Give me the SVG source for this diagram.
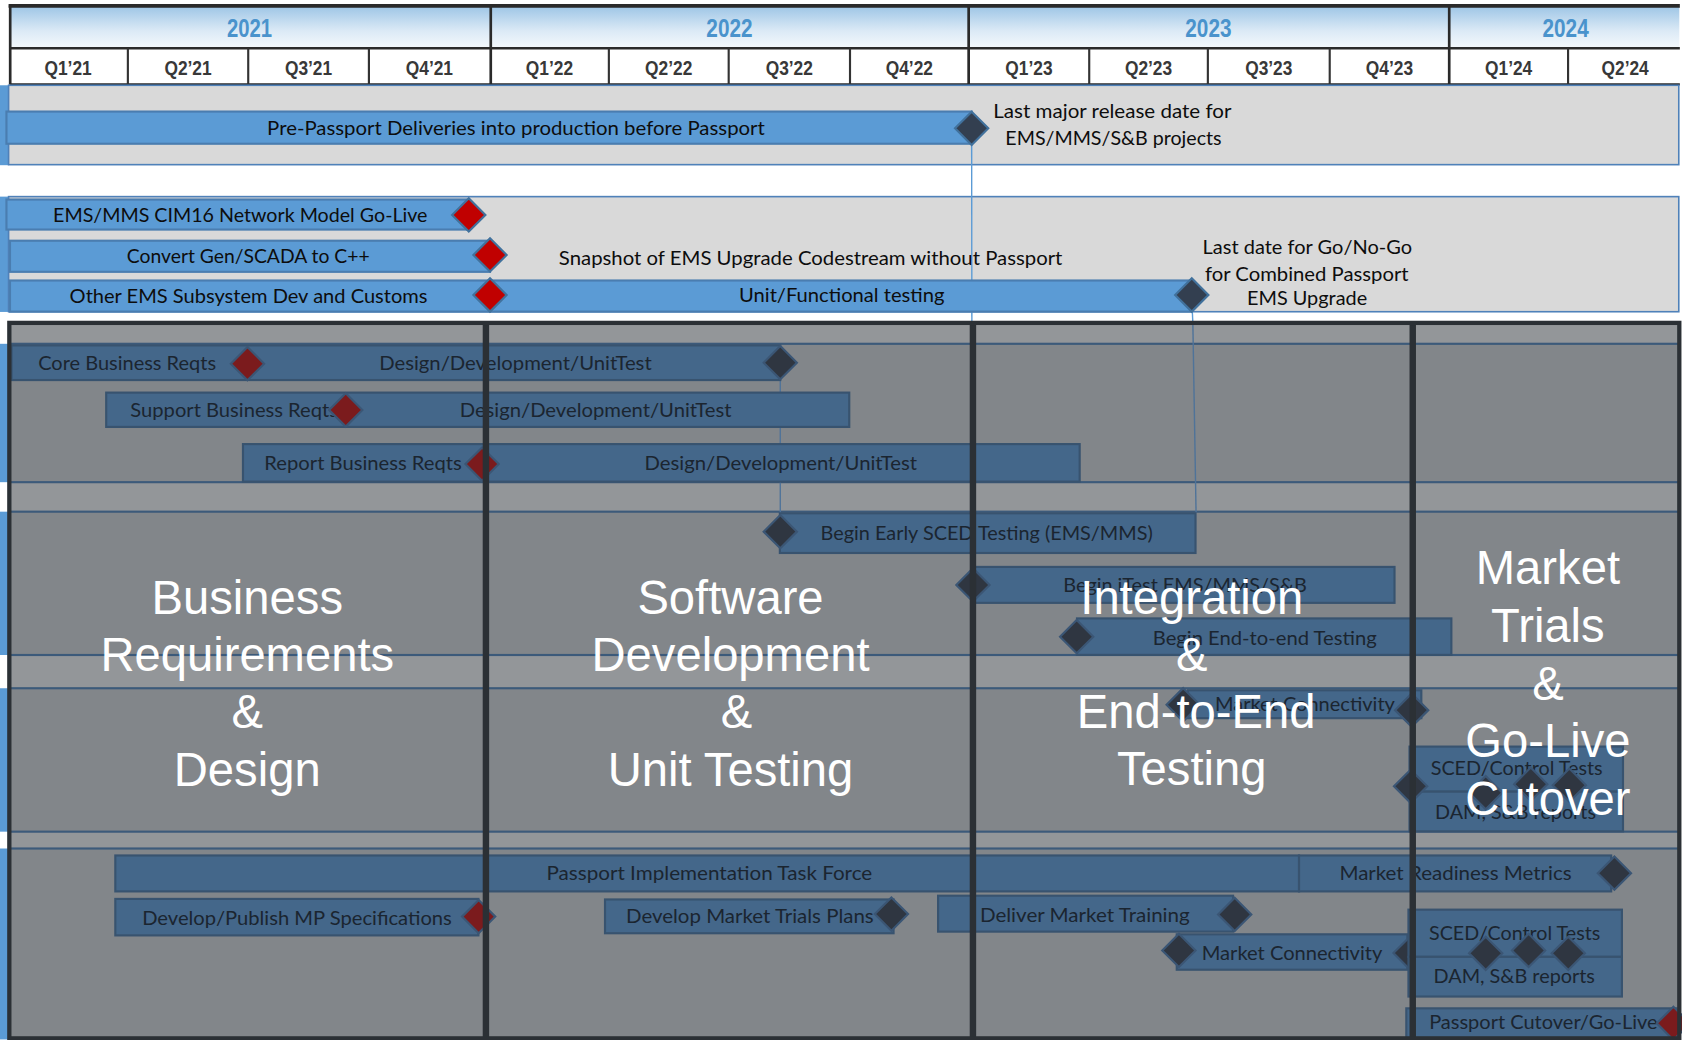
<svg xmlns="http://www.w3.org/2000/svg" width="1682" height="1040" viewBox="0 0 1682 1040">
<defs>
<linearGradient id="yearGrad" x1="0" y1="0" x2="0" y2="1">
<stop offset="0" stop-color="#9ec6e6"/>
<stop offset="0.6" stop-color="#dceaf6"/>
<stop offset="1" stop-color="#f3f8fc"/>
</linearGradient>
<path id="dm" d="M0,-15.5 L15.5,0 L0,15.5 L-15.5,0 Z"/>
<style>
.lbl{font-family:Lato,"Open Sans","Liberation Sans",sans-serif;font-size:18.5px;fill:#0d0d0d;text-anchor:middle}
.lbl2{font-family:Lato,"Open Sans","Liberation Sans",sans-serif;font-size:18px;fill:#1b2530;text-anchor:middle}
.year{font-family:"Liberation Sans",Arial,sans-serif;font-weight:bold;font-size:24px;fill:#4a93cc;text-anchor:middle}
.qtr{font-family:"Liberation Sans",Arial,sans-serif;font-weight:bold;font-size:19px;fill:#383838;text-anchor:middle}
.phase{font-family:"Liberation Sans",Arial,sans-serif;font-size:44px;fill:#ffffff;text-anchor:middle}
.sec{fill:#d9d9d9;stroke:#4f81b9;stroke-width:1.5}
.strip{fill:#5b9bd5}
.lane{fill:#82868a;stroke:#3c5a7a;stroke-width:2}
.bar{fill:#5b9bd5;stroke:#4a7db0;stroke-width:2}
.dbar{fill:#44678a;stroke:#38536f;stroke-width:2}
.rd{fill:#c00000;stroke:#41719c;stroke-width:2}
.dd{fill:#333f50;stroke:#41719c;stroke-width:2}
.rdl{fill:#7b1b1d;stroke:#3b5675;stroke-width:2}
.ddl{fill:#2f3641;stroke:#3b5675;stroke-width:2}
.hl{stroke:#2a2a2a;fill:none}
.div{stroke:#2b3035;stroke-width:6;fill:none}
</style>
</defs>
<rect width="1682" height="1040" fill="#ffffff"/>
<g transform="scale(1.0727)">
<!-- header -->
<g id="header">
<rect x="9.5" y="6" width="1556" height="38.5" fill="url(#yearGrad)"/>
<rect x="9.5" y="46" width="1556" height="32" fill="#ffffff"/>
<line class="hl" x1="8" y1="5.5" x2="1566" y2="5.5" stroke-width="3.5"/>
<line class="hl" x1="9.5" y1="45" x2="1566" y2="45" stroke-width="2.5"/>
<line class="hl" x1="9.5" y1="78.6" x2="1566" y2="78.6" stroke-width="2"/>
<line class="hl" x1="9.5" y1="5" x2="9.5" y2="79" stroke-width="2.5"/>
<line class="hl" x1="457.5" y1="5" x2="457.5" y2="79" stroke-width="2.5"/>
<line class="hl" x1="903" y1="5" x2="903" y2="79" stroke-width="2.5"/>
<line class="hl" x1="1351" y1="5" x2="1351" y2="79" stroke-width="2.5"/>
<g stroke="#333" stroke-width="2">
<line x1="119.2" y1="45" x2="119.2" y2="79"/>
<line x1="231.4" y1="45" x2="231.4" y2="79"/>
<line x1="343.9" y1="45" x2="343.9" y2="79"/>
<line x1="567.6" y1="45" x2="567.6" y2="79"/>
<line x1="679.3" y1="45" x2="679.3" y2="79"/>
<line x1="792.4" y1="45" x2="792.4" y2="79"/>
<line x1="1015.4" y1="45" x2="1015.4" y2="79"/>
<line x1="1126" y1="45" x2="1126" y2="79"/>
<line x1="1239.6" y1="45" x2="1239.6" y2="79"/>
<line x1="1461.8" y1="45" x2="1461.8" y2="79"/>
</g>
<text class="year" x="232.5" y="34.8" textLength="42" lengthAdjust="spacingAndGlyphs">2021</text>
<text class="year" x="680" y="34.8" textLength="43" lengthAdjust="spacingAndGlyphs">2022</text>
<text class="year" x="1126.5" y="34.8" textLength="43" lengthAdjust="spacingAndGlyphs">2023</text>
<text class="year" x="1459.5" y="34.8" textLength="43" lengthAdjust="spacingAndGlyphs">2024</text>
<text class="qtr" x="63.5" y="70" textLength="44" lengthAdjust="spacingAndGlyphs">Q1’21</text>
<text class="qtr" x="175.3" y="70" textLength="44" lengthAdjust="spacingAndGlyphs">Q2’21</text>
<text class="qtr" x="287.6" y="70" textLength="44" lengthAdjust="spacingAndGlyphs">Q3’21</text>
<text class="qtr" x="400.3" y="70" textLength="44" lengthAdjust="spacingAndGlyphs">Q4’21</text>
<text class="qtr" x="512.2" y="70" textLength="44" lengthAdjust="spacingAndGlyphs">Q1’22</text>
<text class="qtr" x="623.4" y="70" textLength="44" lengthAdjust="spacingAndGlyphs">Q2’22</text>
<text class="qtr" x="735.8" y="70" textLength="44" lengthAdjust="spacingAndGlyphs">Q3’22</text>
<text class="qtr" x="847.7" y="70" textLength="44" lengthAdjust="spacingAndGlyphs">Q4’22</text>
<text class="qtr" x="959.2" y="70" textLength="44" lengthAdjust="spacingAndGlyphs">Q1’23</text>
<text class="qtr" x="1070.7" y="70" textLength="44" lengthAdjust="spacingAndGlyphs">Q2’23</text>
<text class="qtr" x="1182.8" y="70" textLength="44" lengthAdjust="spacingAndGlyphs">Q3’23</text>
<text class="qtr" x="1295.3" y="70" textLength="44" lengthAdjust="spacingAndGlyphs">Q4’23</text>
<text class="qtr" x="1406.4" y="70" textLength="44" lengthAdjust="spacingAndGlyphs">Q1’24</text>
<text class="qtr" x="1515" y="70" textLength="44" lengthAdjust="spacingAndGlyphs">Q2’24</text>
</g>
<!-- upper sections -->
<g id="sections-upper">
<rect class="strip" x="0" y="79.5" width="8.5" height="74.5"/>
<rect class="strip" x="0" y="183.3" width="8.5" height="107.5"/>
<rect class="sec" x="8" y="79.5" width="1557" height="74"/>
<rect class="sec" x="8" y="183.3" width="1557" height="107.3"/>
</g>
<!-- lower lanes -->
<g id="lanes-lower">
<rect class="strip" x="0" y="320.5" width="8.7" height="129"/>
<rect class="strip" x="0" y="477" width="8.7" height="133.6"/>
<rect class="strip" x="0" y="641.6" width="8.7" height="133.7"/>
<rect class="strip" x="0" y="791" width="8.7" height="178"/>
<rect x="8.7" y="301" width="1556.8" height="667" fill="#939699"/>
<rect class="lane" x="8.7" y="320.5" width="1556.8" height="129"/>
<rect class="lane" x="8.7" y="477" width="1556.8" height="133.6"/>
<rect class="lane" x="8.7" y="641.6" width="1556.8" height="133.7"/>
<rect class="lane" x="8.7" y="791" width="1556.8" height="177"/>
</g>
<!-- connectors -->
<g id="connectors" fill="none" stroke-width="1.3">
<path d="M905.8,134 L906,301" stroke="#5b9bd5"/>
<path d="M1111.5,290 L1112,301" stroke="#5b9bd5"/>
<path d="M1112,301 L1115,478" stroke="#4f7399"/>
<path d="M727.4,354 L727.4,480" stroke="#4f7399"/>
</g>
<!-- upper tasks -->
<g id="task-prepassport">
<rect class="bar" x="6" y="104" width="899.8" height="30"/>
<text class="lbl" x="481" y="126" textLength="464" lengthAdjust="spacingAndGlyphs">Pre-Passport Deliveries into production before Passport</text>
<use href="#dm" x="905.8" y="119.6" class="dd"/>
</g>
<g id="note-lastmajor">
<text class="lbl" x="1037" y="110.3" textLength="222" lengthAdjust="spacingAndGlyphs">Last major release date for</text>
<text class="lbl" x="1038" y="135.2" textLength="201.6" lengthAdjust="spacingAndGlyphs">EMS/MMS/S&amp;B projects</text>
</g>
<g id="task-cim16">
<rect class="bar" x="6" y="186" width="431" height="28"/>
<text class="lbl" x="224" y="206.7" textLength="349" lengthAdjust="spacingAndGlyphs">EMS/MMS CIM16 Network Model Go-Live</text>
<use href="#dm" x="437" y="200.4" class="rd"/>
</g>
<g id="task-convert">
<rect class="bar" x="9.3" y="224.4" width="447.5" height="29"/>
<text class="lbl" x="231.4" y="245.5" textLength="226.4" lengthAdjust="spacingAndGlyphs">Convert Gen/SCADA to C++</text>
<use href="#dm" x="456.8" y="237.7" class="rd"/>
</g>
<g id="task-otherems">
<rect class="bar" x="9.3" y="261.5" width="1101.7" height="29"/>
<text class="lbl" x="231.7" y="282.2" textLength="333.6" lengthAdjust="spacingAndGlyphs">Other EMS Subsystem Dev and Customs</text>
<text class="lbl" x="784.7" y="281.2" textLength="191.5" lengthAdjust="spacingAndGlyphs">Unit/Functional testing</text>
<use href="#dm" x="456.8" y="275" class="rd"/>
<use href="#dm" x="1111" y="275" class="dd"/>
</g>
<g id="note-snapshot">
<text class="lbl" x="755.7" y="247" textLength="469.4" lengthAdjust="spacingAndGlyphs">Snapshot of EMS Upgrade Codestream without Passport</text>
</g>
<g id="note-gonogo">
<text class="lbl" x="1218.7" y="236.8" textLength="195.3" lengthAdjust="spacingAndGlyphs">Last date for Go/No-Go</text>
<text class="lbl" x="1218.2" y="261.7" textLength="189.8" lengthAdjust="spacingAndGlyphs">for Combined Passport</text>
<text class="lbl" x="1218.5" y="284.3" textLength="112" lengthAdjust="spacingAndGlyphs">EMS Upgrade</text>
</g>
<!-- lower tasks: lane 1 -->
<g id="task-core">
<rect class="dbar" x="10.7" y="322" width="716.7" height="32.3"/>
<text class="lbl2" x="118.5" y="345" textLength="165.8" lengthAdjust="spacingAndGlyphs">Core Business Reqts</text>
<text class="lbl2" x="480.5" y="345" textLength="254" lengthAdjust="spacingAndGlyphs">Design/Development/UnitTest</text>
<use href="#dm" x="230.7" y="339" class="rdl"/>
<use href="#dm" x="727.4" y="338.1" class="ddl"/>
</g>
<g id="task-support">
<rect class="dbar" x="99" y="366" width="692.7" height="32"/>
<text class="lbl2" x="218.3" y="388.4" textLength="193.5" lengthAdjust="spacingAndGlyphs">Support Business Reqts</text>
<text class="lbl2" x="555.2" y="388.4" textLength="253.4" lengthAdjust="spacingAndGlyphs">Design/Development/UnitTest</text>
<use href="#dm" x="322.3" y="382.2" class="rdl"/>
</g>
<g id="task-report">
<rect class="dbar" x="226.5" y="414" width="780" height="35"/>
<text class="lbl2" x="338.5" y="438.2" textLength="184.1" lengthAdjust="spacingAndGlyphs">Report Business Reqts</text>
<text class="lbl2" x="727.9" y="438.2" textLength="254" lengthAdjust="spacingAndGlyphs">Design/Development/UnitTest</text>
<use href="#dm" x="449.4" y="432.6" class="rdl"/>
</g>
<!-- lane 2 -->
<g id="task-earlysced">
<rect class="dbar" x="727" y="478.5" width="387.5" height="37"/>
<text class="lbl2" x="919.8" y="503.4" textLength="309.6" lengthAdjust="spacingAndGlyphs">Begin Early SCED Testing (EMS/MMS)</text>
<use href="#dm" x="727.4" y="495.6" class="ddl"/>
</g>
<g id="task-itest">
<rect class="dbar" x="907" y="528.5" width="393" height="33.5"/>
<text class="lbl2" x="1104.7" y="551.6" textLength="227" lengthAdjust="spacingAndGlyphs">Begin iTest EMS/MMS/S&amp;B</text>
<use href="#dm" x="907" y="545.3" class="ddl"/>
</g>
<g id="task-e2e">
<rect class="dbar" x="1004" y="576.5" width="349" height="34"/>
<text class="lbl2" x="1179" y="601.3" textLength="208.8" lengthAdjust="spacingAndGlyphs">Begin End-to-end Testing</text>
<use href="#dm" x="1003.7" y="593.5" class="ddl"/>
</g>
<!-- lane 3 -->
<g id="task-mktconn1">
<rect class="dbar" x="1107.5" y="643.5" width="217.5" height="26"/>
<text class="lbl2" x="1216.5" y="662.5" textLength="167.7" lengthAdjust="spacingAndGlyphs">Market Connectivity</text>
<use href="#dm" x="1103" y="657" class="ddl"/>
<use href="#dm" x="1316" y="662" class="ddl"/>
</g>
<g id="task-sced1">
<rect class="dbar" x="1314" y="696" width="199" height="42"/>
<rect class="dbar" x="1314" y="738" width="199" height="37"/>
<text class="lbl2" x="1413.9" y="722.5" textLength="160.3" lengthAdjust="spacingAndGlyphs">SCED/Control Tests</text>
<text class="lbl2" x="1412.8" y="763.8" textLength="150" lengthAdjust="spacingAndGlyphs">DAM, S&amp;B reports</text>
<use href="#dm" x="1315" y="733" class="ddl"/>
<use href="#dm" x="1385" y="739" class="ddl"/>
<use href="#dm" x="1427" y="731" class="ddl"/>
<use href="#dm" x="1463" y="732" class="ddl"/>
</g>
<!-- lane 4 -->
<g id="task-taskforce">
<rect class="dbar" x="107.5" y="797.5" width="1103.5" height="33.5"/>
<text class="lbl2" x="661.3" y="820.4" textLength="303.7" lengthAdjust="spacingAndGlyphs">Passport Implementation Task Force</text>
</g>
<g id="task-readiness">
<rect class="dbar" x="1211" y="797.5" width="291" height="33.5"/>
<text class="lbl2" x="1356.9" y="820.4" textLength="216.5" lengthAdjust="spacingAndGlyphs">Market Readiness Metrics</text>
<use href="#dm" x="1505" y="814" class="ddl"/>
</g>
<g id="task-mpspec">
<rect class="dbar" x="107.5" y="838" width="338.5" height="34"/>
<text class="lbl2" x="276.9" y="862.3" textLength="288.7" lengthAdjust="spacingAndGlyphs">Develop/Publish MP Specifications</text>
<use href="#dm" x="446.2" y="854.5" class="rdl"/>
</g>
<g id="task-trialsplans">
<rect class="dbar" x="564" y="838.5" width="269" height="31.5"/>
<text class="lbl2" x="699" y="860.8" textLength="230.9" lengthAdjust="spacingAndGlyphs">Develop Market Trials Plans</text>
<use href="#dm" x="831" y="852.1" class="ddl"/>
</g>
<g id="task-training">
<rect class="dbar" x="874.5" y="835" width="275" height="33.5"/>
<text class="lbl2" x="1011.3" y="859.2" textLength="195.6" lengthAdjust="spacingAndGlyphs">Deliver Market Training</text>
<use href="#dm" x="1151" y="852.5" class="ddl"/>
</g>
<g id="task-mktconn2">
<rect class="dbar" x="1097" y="871" width="215" height="33"/>
<text class="lbl2" x="1204.5" y="895" textLength="168.4" lengthAdjust="spacingAndGlyphs">Market Connectivity</text>
<use href="#dm" x="1099" y="886" class="ddl"/>
<use href="#dm" x="1314.5" y="888.5" class="ddl"/>
</g>
<g id="task-sced2">
<rect class="dbar" x="1313" y="848" width="199" height="44"/>
<rect class="dbar" x="1313" y="892" width="199" height="37"/>
<text class="lbl2" x="1412" y="876.3" textLength="159.7" lengthAdjust="spacingAndGlyphs">SCED/Control Tests</text>
<text class="lbl2" x="1411.6" y="916.7" textLength="150.4" lengthAdjust="spacingAndGlyphs">DAM, S&amp;B reports</text>
<use href="#dm" x="1385" y="888.7" class="ddl"/>
<use href="#dm" x="1425" y="886" class="ddl"/>
<use href="#dm" x="1462" y="888.7" class="ddl"/>
</g>
<g id="task-cutover">
<rect class="dbar" x="1311" y="940" width="252" height="28"/>
<text class="lbl2" x="1438.8" y="959.6" textLength="213" lengthAdjust="spacingAndGlyphs">Passport Cutover/Go-Live</text>
<use href="#dm" x="1560" y="954" class="rdl"/>
</g>
<!-- phase frame -->
<g id="phase-frame">
<line class="div" x1="453" y1="301" x2="453" y2="968"/>
<line class="div" x1="907" y1="301" x2="907" y2="968"/>
<line class="div" x1="1317" y1="301" x2="1317" y2="968"/>
<rect x="8.7" y="301" width="1556.8" height="667" fill="none" stroke="#2b3035" stroke-width="4"/>
</g>
<g id="phase-business">
<text class="phase" x="230.5" y="572">Business</text>
<text class="phase" x="230.5" y="625.5">Requirements</text>
<text class="phase" x="230.5" y="679">&amp;</text>
<text class="phase" x="230.5" y="732.7">Design</text>
</g>
<g id="phase-software">
<text class="phase" x="681" y="572">Software</text>
<text class="phase" x="681" y="625.5">Development</text>
<text class="phase" x="686.5" y="679">&amp;</text>
<text class="phase" x="681" y="732.7">Unit Testing</text>
</g>
<g id="phase-integration">
<text class="phase" x="1111" y="572.5">Integration</text>
<text class="phase" x="1111" y="625.5">&amp;</text>
<text class="phase" x="1115" y="679">End-to-End</text>
<text class="phase" x="1111" y="732">Testing</text>
</g>
<g id="phase-market">
<text class="phase" x="1443" y="544.4">Market</text>
<text class="phase" x="1443" y="598.8">Trials</text>
<text class="phase" x="1443" y="652.6">&amp;</text>
<text class="phase" x="1443" y="705.4">Go-Live</text>
<text class="phase" x="1443" y="759.8">Cutover</text>
</g>
</g>
</svg>
